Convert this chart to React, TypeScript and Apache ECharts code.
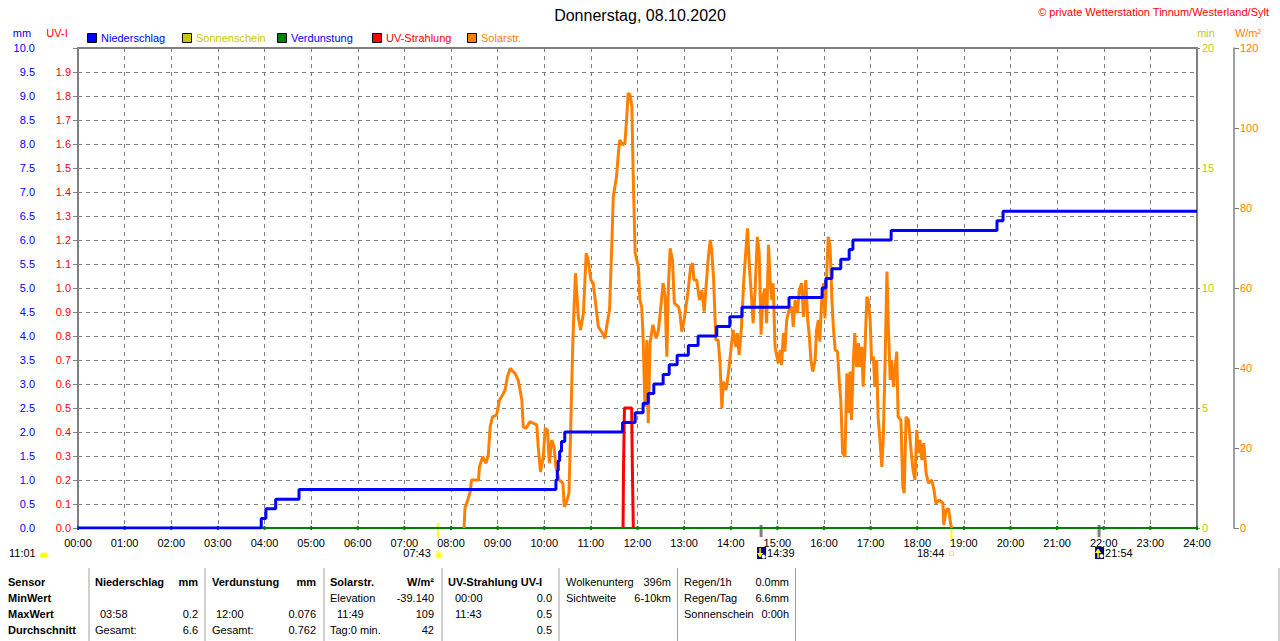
import React, { useEffect, useRef } from "react";
import * as echarts from "echarts";

const FONT = '"Liberation Sans", Arial, sans-serif';
const BLUE = "#0000ff";
const RED = "#ff0000";
const ORANGE = "#ff8000";
const GREEN = "#008000";
const OLIVE = "#c8c800";
const GRAY = "#808080";

const TITLE = "Donnerstag, 08.10.2020";
const COPYRIGHT = "© private Wetterstation Tinnum/Westerland/Sylt";

const hourTicks = [
  "00:00", "01:00", "02:00", "03:00", "04:00", "05:00", "06:00", "07:00", "08:00",
  "09:00", "10:00", "11:00", "12:00", "13:00", "14:00", "15:00", "16:00", "17:00",
  "18:00", "19:00", "20:00", "21:00", "22:00", "23:00", "24:00",
];
const evapHours = [0, 1, 2, 3, 4, 5, 6, 7, 8, 9, 10, 11, 12, 13, 14, 15, 16, 17, 18, 19, 20, 21, 22, 23, 24];
const evapValues = [0, 0, 0, 0, 0, 0, 0, 0, 0, 0, 0, 0, 0, 0, 0, 0, 0, 0, 0, 0, 0, 0, 0, 0, 0];

// Niederschlag (mm), cumulative: [hour, mm]
const rainReadings: [number, number][] = [
  [0, 0], [3.93, 0.2], [4.03, 0.4], [4.24, 0.6], [4.74, 0.8],
  [10.25, 1.0], [10.28, 1.2], [10.3, 1.4], [10.33, 1.6], [10.37, 1.8], [10.44, 2.0],
  [11.68, 2.2], [11.95, 2.4], [12.12, 2.6], [12.23, 2.8], [12.35, 3.0], [12.55, 3.2],
  [12.68, 3.4], [12.85, 3.6], [13.09, 3.8], [13.3, 4.0], [13.7, 4.2], [13.98, 4.4],
  [14.24, 4.6], [15.25, 4.8], [15.96, 5.0], [16.04, 5.2], [16.17, 5.4], [16.36, 5.6],
  [16.54, 5.8], [16.62, 6.0], [17.44, 6.2], [19.71, 6.4], [19.84, 6.6], [24, 6.6],
];

// UV-Strahlung (UV-I): [hour, UV-I]
const uvReadings: [number, number][] = [
  [11.69, 0], [11.7, 0.25], [11.72, 0.5], [11.875, 0.5], [11.89, 0.25], [11.91, 0],
];

// Solarstrahlung (W/m²): [hour, W/m²]
const solarReadings: [number, number][] = [
  [8.28, 0], [8.3, 5], [8.35, 6.6], [8.41, 9], [8.44, 12], [8.59, 12], [8.61, 15.3], [8.68, 17.8],
  [8.75, 16.2], [8.8, 18.3], [8.84, 25.3], [8.89, 27.8], [8.98, 28.3], [9.04, 32], [9.11, 33.3],
  [9.16, 34.5], [9.21, 37.8], [9.27, 39.9], [9.37, 38.7], [9.44, 37], [9.52, 32], [9.55, 25.3],
  [9.61, 24.9], [9.69, 26.6], [9.84, 25.8], [9.87, 20.3], [9.92, 14], [9.98, 17.8], [10.02, 24.9],
  [10.07, 24.5], [10.11, 16.2], [10.16, 22], [10.21, 20.3], [10.25, 15.3], [10.32, 12], [10.4, 11.2],
  [10.43, 5.3], [10.48, 6.6], [10.53, 8.7], [10.57, 26.2], [10.61, 45.3], [10.64, 55.3], [10.67, 63.7],
  [10.73, 52.8], [10.78, 49.5], [10.84, 53.7], [10.9, 68.7], [10.94, 67], [11.0, 62], [11.05, 61.2],
  [11.11, 55.3], [11.16, 50.3], [11.25, 48.7], [11.3, 47.4], [11.35, 51.2], [11.4, 54.5], [11.45, 71.2],
  [11.48, 82.8], [11.55, 87.8], [11.59, 93.7], [11.62, 97], [11.68, 95.8], [11.73, 96.2], [11.77, 102.8],
  [11.8, 108.7], [11.84, 108.3], [11.88, 105.3], [11.91, 87], [11.95, 68.7], [12.02, 65.3], [12.05, 57],
  [12.09, 55.3], [12.12, 47.8], [12.16, 30.3], [12.2, 47], [12.23, 26.2], [12.27, 46.2], [12.33, 50.8],
  [12.4, 47.4], [12.45, 49.5], [12.5, 55.3], [12.55, 61.2], [12.59, 57.8], [12.63, 42.8], [12.66, 59.5],
  [12.7, 69.9], [12.75, 67], [12.79, 56.2], [12.88, 55.3], [12.91, 53.7], [12.95, 49.1], [13.0, 52],
  [13.06, 57], [13.09, 59.9], [13.14, 65.3], [13.18, 66.2], [13.21, 62], [13.27, 62], [13.33, 57],
  [13.38, 59.5], [13.43, 54.1], [13.47, 60.3], [13.52, 67.8], [13.56, 72], [13.59, 69.5], [13.63, 62.8],
  [13.68, 47], [13.73, 47], [13.77, 41.2], [13.81, 29.9], [13.84, 36.6], [13.9, 34.5], [13.95, 38.7],
  [14.0, 44.1], [14.05, 49.5], [14.11, 45.3], [14.14, 48.7], [14.18, 43.3], [14.23, 50.3], [14.28, 62],
  [14.33, 70.3], [14.36, 74.9], [14.4, 65.3], [14.45, 57], [14.48, 51.2], [14.52, 58.7], [14.57, 72.8],
  [14.61, 68.7], [14.65, 48.3], [14.69, 57.8], [14.73, 59.9], [14.77, 51.2], [14.81, 70.8], [14.84, 62.8],
  [14.88, 57], [14.91, 61.2], [14.95, 45.3], [14.99, 42.8], [15.02, 41.2], [15.06, 44.5], [15.09, 40.8],
  [15.13, 48.7], [15.16, 44.1], [15.2, 52], [15.25, 54.5], [15.31, 55.3], [15.34, 50.3], [15.38, 57],
  [15.43, 53.7], [15.47, 59.5], [15.52, 61.2], [15.56, 52.8], [15.61, 62], [15.65, 52], [15.68, 48.7],
  [15.72, 42], [15.76, 39.1], [15.81, 42], [15.84, 49.5], [15.88, 52], [15.91, 46.6], [15.95, 57],
  [15.99, 61.2], [16.02, 52.4], [16.06, 63.7], [16.09, 72.8], [16.13, 70.3], [16.17, 57], [16.2, 50.3],
  [16.24, 44.5], [16.29, 44.1], [16.33, 36.2], [16.36, 32], [16.4, 18.7], [16.45, 17.8], [16.49, 38.7],
  [16.52, 28.7], [16.56, 39.1], [16.59, 27], [16.63, 42], [16.66, 48.7], [16.7, 40.3], [16.74, 46.2],
  [16.77, 40.3], [16.81, 45.3], [16.84, 35.3], [16.88, 45.3], [16.92, 57.8], [16.95, 57], [16.99, 52],
  [17.02, 42], [17.06, 42.8], [17.09, 35.3], [17.13, 42], [17.16, 27.8], [17.2, 22], [17.24, 15.3],
  [17.27, 22], [17.31, 41.2], [17.35, 64.1], [17.38, 50.3], [17.42, 37], [17.45, 42], [17.49, 35.3],
  [17.56, 44.1], [17.59, 27.8], [17.65, 27], [17.69, 10.3], [17.72, 8.7], [17.76, 27.8], [17.81, 27],
  [17.86, 20.3], [17.9, 15.3], [17.95, 12], [17.99, 24.5], [18.02, 18.7], [18.06, 22], [18.1, 17],
  [18.14, 21.2], [18.19, 13.7], [18.24, 11.2], [18.31, 12], [18.36, 9.5], [18.4, 6.2], [18.47, 7],
  [18.55, 6.2], [18.57, 0.75], [18.62, 4.5], [18.67, 4.9], [18.72, 0.75], [18.74, 0],
];

const legendItems = [
  { name: "Niederschlag", box: BLUE, text: BLUE },
  { name: "Sonnenschein", box: OLIVE, text: OLIVE },
  { name: "Verdunstung", box: GREEN, text: BLUE },
  { name: "UV-Strahlung", box: RED, text: RED },
  { name: "Solarstr.", box: ORANGE, text: ORANGE },
];
const legendX = [87, 182, 277, 372, 467];

// sunrise / sunset / moon events (hours)
const sunrise = { hour: 7 + 43 / 60, label: "07:43" };
const sunset = { hour: 18 + 44 / 60, label: "18:44" };
const moonEvents = [
  { hour: 14 + 39 / 60, label: "14:39", up: false },
  { hour: 21 + 54 / 60, label: "21:54", up: true },
];
const moonLeftLabel = "11:01";

// table
const tableSeparators = [89, 205, 324, 442, 559, 677.5, 795.5, 1279];
const tableRowsY = [582, 598, 614, 630];
type Cell = [number, number, string, "left" | "right", boolean];
const tableCells: Cell[] = [
  [8, 0, "Sensor", "left", true],
  [8, 1, "MinWert", "left", true],
  [8, 2, "MaxWert", "left", true],
  [8, 3, "Durchschnitt", "left", true],
  [95, 0, "Niederschlag", "left", true],
  [198, 0, "mm", "right", true],
  [100, 2, "03:58", "left", false],
  [198, 2, "0.2", "right", false],
  [95, 3, "Gesamt:", "left", false],
  [198, 3, "6.6", "right", false],
  [212, 0, "Verdunstung", "left", true],
  [316, 0, "mm", "right", true],
  [216, 2, "12:00", "left", false],
  [316, 2, "0.076", "right", false],
  [212, 3, "Gesamt:", "left", false],
  [316, 3, "0.762", "right", false],
  [330, 0, "Solarstr.", "left", true],
  [434, 0, "W/m²", "right", true],
  [330, 1, "Elevation", "left", false],
  [434, 1, "-39.140", "right", false],
  [337, 2, "11:49", "left", false],
  [434, 2, "109", "right", false],
  [330, 3, "Tag:0 min.", "left", false],
  [434, 3, "42", "right", false],
  [448, 0, "UV-Strahlung UV-I", "left", true],
  [455, 1, "00:00", "left", false],
  [552, 1, "0.0", "right", false],
  [455, 2, "11:43", "left", false],
  [552, 2, "0.5", "right", false],
  [552, 3, "0.5", "right", false],
  [566, 0, "Wolkenunterg", "left", false],
  [671, 0, "396m", "right", false],
  [566, 1, "Sichtweite", "left", false],
  [671, 1, "6-10km", "right", false],
  [684, 0, "Regen/1h", "left", false],
  [789, 0, "0.0mm", "right", false],
  [684, 1, "Regen/Tag", "left", false],
  [789, 1, "6.6mm", "right", false],
  [684, 2, "Sonnenschein", "left", false],
  [789, 2, "0:00h", "right", false],
];

function txt(x: number, y: number, text: string, fill: string, size: number, align = "left", bold = false) {
  return {
    type: "text",
    x,
    y,
    silent: true,
    style: {
      text,
      fill,
      font: `${bold ? "bold " : ""}${size}px ${FONT}`,
      align,
      textAlign: align,
      verticalAlign: "middle",
      textVerticalAlign: "middle",
    },
  };
}

export default function App() {
  const ref = useRef<HTMLDivElement>(null);
  useEffect(() => {
    document.body.style.margin = "0";
    const chart = echarts.init(ref.current!, null, { renderer: "svg", width: 1280, height: 641 });
    const axisLabelBase = { fontFamily: FONT, fontSize: 11 };
    chart.setOption({
      animation: false,
      backgroundColor: "#ffffff",
      grid: { left: 78, right: 83, top: 48, bottom: 113, show: true, borderColor: GRAY, borderWidth: 2, backgroundColor: "transparent" },
      xAxis: {
        type: "value",
        min: 0,
        max: 24,
        interval: 1,
        axisLine: { show: false },
        axisTick: { show: false },
        axisLabel: { ...axisLabelBase, color: "#000", margin: 9, formatter: (v: number) => hourTicks[Math.round(v)] },
        splitLine: { show: true, lineStyle: { color: GRAY, type: [4, 4], width: 1 } },
      },
      yAxis: [
        {
          type: "value", position: "left", offset: 37, min: 0, max: 10, interval: 0.5,
          axisLine: { show: true, lineStyle: { color: GRAY, width: 1.5 } },
          axisTick: { show: true, length: 5, lineStyle: { color: GRAY } },
          axisLabel: { ...axisLabelBase, color: BLUE, margin: 6, formatter: (v: number) => v.toFixed(1) },
          splitLine: { show: true, lineStyle: { color: GRAY, type: [4, 4], width: 1 } },
        },
        {
          type: "value", position: "left", offset: 0, min: 0, max: 2, interval: 0.1,
          axisLine: { show: false }, axisTick: { show: false },
          axisLabel: { ...axisLabelBase, color: RED, margin: 7, showMaxLabel: false, formatter: (v: number) => v.toFixed(1) },
          splitLine: { show: false },
        },
        {
          type: "value", position: "right", offset: 0, min: 0, max: 20, interval: 5,
          axisLine: { show: false },
          axisTick: { show: true, length: 3, lineStyle: { color: GRAY } },
          axisLabel: { ...axisLabelBase, color: OLIVE, margin: 5 },
          splitLine: { show: false },
        },
        {
          type: "value", position: "right", offset: 37, min: 0, max: 120, interval: 20,
          axisLine: { show: true, lineStyle: { color: GRAY, width: 1.5 } },
          axisTick: { show: true, length: 5, lineStyle: { color: GRAY } },
          axisLabel: { ...axisLabelBase, color: ORANGE, margin: 6 },
          splitLine: { show: false },
        },
      ],
      series: [
        {
          name: "Verdunstung", type: "line", yAxisIndex: 0,
          data: evapHours.map((h, i) => [h, evapValues[i]]),
          symbol: "rect", symbolSize: [2, 4], showSymbol: true,
          itemStyle: { color: GREEN }, lineStyle: { color: GREEN, width: 2 }, z: 2,
        },
        {
          name: "Solarstr.", type: "line", yAxisIndex: 3, data: solarReadings,
          showSymbol: false, symbol: "none", sampling: undefined,
          lineStyle: { color: ORANGE, width: 3 }, z: 3,
        },
        {
          name: "UV-Strahlung", type: "line", yAxisIndex: 1, data: uvReadings,
          showSymbol: false, symbol: "none", lineStyle: { color: RED, width: 3 }, z: 4,
        },
        {
          name: "Niederschlag", type: "line", yAxisIndex: 0, data: rainReadings, step: "end",
          showSymbol: false, symbol: "none", lineStyle: { color: BLUE, width: 3 }, z: 5,
        },
      ],
    });

    const px = (h: number) => chart.convertToPixel({ xAxisIndex: 0 }, h) as number;
    const g: any[] = [];
    g.push(txt(640, 15, TITLE, "#000", 16, "center"));
    g.push(txt(1269, 12, COPYRIGHT, RED, 11, "right"));
    g.push(txt(22, 33, "mm", BLUE, 11, "center"));
    g.push(txt(57, 33, "UV-I", RED, 11, "center"));
    g.push(txt(1206, 33, "min", OLIVE, 11, "center"));
    g.push(txt(1248, 33, "W/m²", ORANGE, 11, "center"));
    legendItems.forEach((it, i) => {
      const x = legendX[i];
      g.push({ type: "rect", silent: true, shape: { x: x + 0.5, y: 33.5, width: 9, height: 9 }, style: { fill: it.box, stroke: "#000", lineWidth: 1 } });
      g.push(txt(x + 14, 38, it.name, it.text, 11, "left"));
    });

    // sunrise
    const sr = px(sunrise.hour);
    g.push({ type: "line", silent: true, shape: { x1: sr, y1: 523, x2: sr, y2: 537 }, style: { stroke: "#ffff00", lineWidth: 2 } });
    g.push(txt(sr - 7, 553, sunrise.label, "#000", 11, "right"));
    g.push({ type: "circle", silent: true, shape: { cx: sr + 1, cy: 555, r: 3.5 }, style: { fill: "#ffff00", stroke: "#ffffa0", lineWidth: 2.5 } });
    // sunset
    const ss = px(sunset.hour);
    g.push({ type: "line", silent: true, shape: { x1: ss, y1: 528, x2: ss, y2: 541 }, style: { stroke: "#ffff00", lineWidth: 2 } });
    g.push(txt(ss - 7, 553, sunset.label, "#000", 11, "right"));
    g.push({ type: "rect", silent: true, shape: { x: ss - 2, y: 551.5, width: 4, height: 4 }, style: { fill: "none", stroke: "#ffff00", lineWidth: 1 } });
    // moon events
    moonEvents.forEach((m) => {
      const mx = px(m.hour);
      g.push({ type: "line", silent: true, shape: { x1: mx, y1: 525, x2: mx, y2: 537 }, style: { stroke: GRAY, lineWidth: 3 } });
      g.push({ type: "rect", silent: true, shape: { x: mx - 4, y: 547, width: 9, height: 12 }, style: { fill: "#000080" } });
      g.push({ type: "circle", silent: true, shape: { cx: mx + 2.5, cy: 556, r: 2 }, style: { fill: "#ffffff" } });
      const ay1 = m.up ? 558 : 548;
      const ay2 = m.up ? 550 : 556;
      g.push({ type: "line", silent: true, shape: { x1: mx - 1, y1: ay1, x2: mx - 1, y2: ay2 }, style: { stroke: "#ffff00", lineWidth: 1.5 } });
      g.push({ type: "polyline", silent: true, shape: { points: m.up ? [[mx - 3.5, 553], [mx - 1, ay2 - 1], [mx + 1.5, 553]] : [[mx - 3.5, 553], [mx - 1, ay2 + 1], [mx + 1.5, 553]] }, style: { stroke: "#ffff00", fill: "#ffff00", lineWidth: 1 } });
      g.push(txt(mx + 6, 553, m.label, "#000", 11, "left"));
    });
    // left moon label
    g.push(txt(9, 553, moonLeftLabel, "#000", 11, "left"));
    g.push({ type: "sector", silent: true, shape: { cx: 44, cy: 557, r0: 0, r: 4.5, startAngle: Math.PI, endAngle: Math.PI * 2 }, style: { fill: "#ffff00" } });

    // table
    tableSeparators.forEach((x) => {
      g.push({ type: "line", silent: true, shape: { x1: x, y1: 568, x2: x, y2: 641 }, style: { stroke: "#a0a0a0", lineWidth: 1 } });
    });
    tableCells.forEach(([x, r, t, a, b]) => {
      g.push(txt(x, tableRowsY[r], t, "#000", 11, a, b));
    });

    chart.setOption({ graphic: g });
    return () => chart.dispose();
  }, []);
  return <div ref={ref} style={{ width: 1280, height: 641 }} />;
}
